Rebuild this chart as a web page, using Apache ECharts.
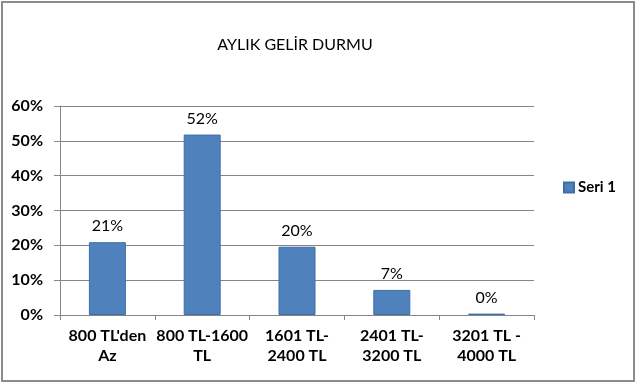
<!DOCTYPE html>
<html>
<head>
<meta charset="utf-8">
<script src="https://cdn.jsdelivr.net/npm/echarts@6/dist/echarts.min.js"></script>
<style>html,body{margin:0;padding:0;background:#fff}#c{width:636px;height:383px}</style>
</head>
<body>
<div id="c"></div>
<script>
var titleText = 'AYLIK GELİR DURMU';
var categories = ["800 TL'den\nAz", '800 TL-1600\nTL', '1601 TL-\n2400 TL', '2401 TL-\n3200 TL', '3201 TL -\n4000 TL'];
var seriesName = 'Seri 1';
var values = [20.9, 51.8, 19.6, 7.2, 0.4];
var yTicks = [0, 10, 20, 30, 40, 50, 60];

var chart = echarts.init(document.getElementById('c'), null, {renderer: 'canvas'});
var FONT = 'Lato, "Open Sans", sans-serif';
chart.setOption({
  animation: false,
  backgroundColor: '#fff',
  title: {
    text: titleText, left: 295, top: 37, textAlign: 'center', padding: 0,
    textStyle: {fontFamily: FONT, fontSize: 16, fontWeight: 'normal', color: '#000'}
  },
  legend: {
    data: [seriesName], left: 563, top: 180, padding: 0, icon: 'rect', itemWidth: 10, itemHeight: 10, itemGap: 5,
    textStyle: {fontFamily: FONT, fontSize: 15, fontWeight: 'bold', color: '#000', padding: [0,0,0,-1]}
  },
  grid: {left: 60, right: 102, top: 106, bottom: 68, containLabel: false},
  xAxis: {
    type: 'category', data: categories,
    axisLine: {lineStyle: {color: '#868686', width: 1}},
    axisTick: {show: true, alignWithLabel: false, length: 5, lineStyle: {color: '#868686'}},
    axisLabel: {fontFamily: FONT, fontSize: 16, fontWeight: 'bold', color: '#000', margin: 11, lineHeight: 20, interval: 0}
  },
  yAxis: {
    type: 'value', min: 0, max: 60, interval: 10,
    axisLine: {show: true, lineStyle: {color: '#868686', width: 1}},
    axisTick: {show: true, length: 6, lineStyle: {color: '#868686'}},
    splitLine: {lineStyle: {color: '#868686', width: 1}},
    axisLabel: {fontFamily: FONT, fontSize: 16, fontWeight: 'bold', color: '#000', margin: 17,
      formatter: function (v) { return yTicks.indexOf(v) >= 0 ? v + '%' : ''; }}
  },
  series: [{
    name: seriesName, type: 'bar', data: values, barWidth: 37,
    itemStyle: {color: '#4F81BD', borderColor: '#3e6ea8', borderWidth: 1},
    label: {show: true, position: 'top', distance: 8, fontFamily: FONT, fontSize: 16, color: '#000',
      formatter: function (p) { return Math.round(p.value) + '%'; }}
  }],
  graphic: [{
    type: 'rect', shape: {x: 2, y: 2, width: 632, height: 379}, silent: true,
    style: {fill: 'none', stroke: '#8c8c8c', lineWidth: 2}
  }]
});
</script>
</body>
</html>
